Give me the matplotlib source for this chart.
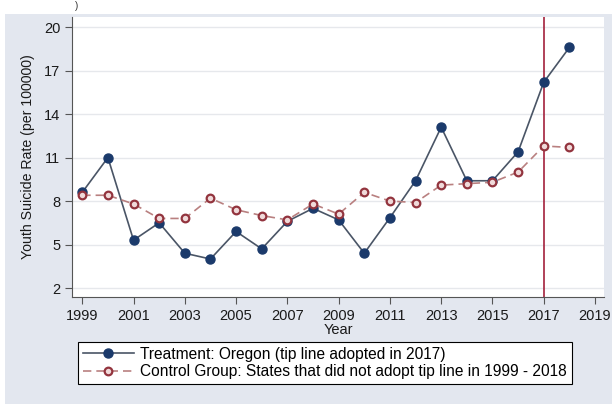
import matplotlib
matplotlib.use("Agg")
import matplotlib.pyplot as plt
from matplotlib.patches import Rectangle

plt.rcParams['font.family'] = ['Liberation Sans', 'DejaVu Sans']

years = list(range(1999, 2019))
oregon = [8.6, 11.0, 5.3, 6.5, 4.4, 4.0, 5.9, 4.7, 6.6, 7.5,
          6.7, 4.4, 6.85, 9.4, 13.1, 9.4, 9.4, 11.4, 16.2, 18.6]
control = [8.4, 8.4, 7.8, 6.8, 6.8, 8.2, 7.4, 7.0, 6.7, 7.8,
           7.1, 8.6, 8.0, 7.9, 9.1, 9.2, 9.3, 10.0, 11.8, 11.7]
xticks = list(range(1999, 2020, 2))
yticks = [2, 5, 8, 11, 14, 17, 20]
adopt_year = 2017

bg = "#e3e7ef"
fig = plt.figure(figsize=(6.12, 4.04), dpi=100)
fig.patch.set_facecolor("white")
# shaded panel behind the graph (white strip left at the top)
fig.patches.append(Rectangle((5 / 612, 0), 1, 1 - 14 / 404, transform=fig.transFigure,
                             facecolor=bg, edgecolor="none", zorder=-1))
fig.text(75 / 612, 1 - 1 / 404, ")", fontsize=7, color="#333333", ha="left", va="top")

ax = fig.add_axes([72 / 612, 1 - 297 / 404, (604 - 72) / 612, (297 - 17) / 404])
ax.set_facecolor("white")

ax.plot(years, oregon, color="#4a5566", lw=1.2, marker="o", ms=6.5,
        mfc="#1b3a6b", mec="#1b3a6b", zorder=3,
        label="Treatment: Oregon (tip line adopted in 2017)")
ax.plot(years, control, color="#b98080", lw=1.2, ls=(0, (5, 3)), marker="o", ms=5.5,
        mfc="#f0dada", mec="#93343e", mew=1.6, zorder=3,
        label="Control Group: States that did not adopt tip line in 1999 - 2018")
ax.axvline(adopt_year, color="#a3213c", lw=1.2, zorder=2)

ax.set_xlim(1998.6, 2019.35)
ax.set_ylim(1.38, 20.7)
ax.set_xticks(xticks)
ax.set_yticks(yticks)
ax.grid(axis="y", color="#e6e8ec", lw=1)
ax.set_axisbelow(True)
for s in ["top", "right"]:
    ax.spines[s].set_visible(False)
for s in ["left", "bottom"]:
    ax.spines[s].set_color("#555555")
ax.tick_params(direction="out", length=5, color="#555555", labelsize=10.5,
               labelcolor="#1a1a1a")
ax.set_ylabel("Youth Suicide Rate (per 100000)", fontsize=10.2, color="#1a1a1a", labelpad=6)
ax.set_xlabel("Year", fontsize=10.5, color="#1a1a1a", labelpad=0)

leg = fig.legend(loc="upper left", bbox_to_anchor=(78 / 612, 1 - 342 / 404),
                 bbox_transform=fig.transFigure,
                 ncol=1, fontsize=11.2, frameon=True, fancybox=False,
                 edgecolor="black", framealpha=1, borderaxespad=0, handlelength=3.3,
                 handletextpad=0.4, labelspacing=0.15, borderpad=0.3)
leg.get_frame().set_linewidth(0.8)

fig.savefig("out.png", dpi=100, facecolor=fig.get_facecolor())
